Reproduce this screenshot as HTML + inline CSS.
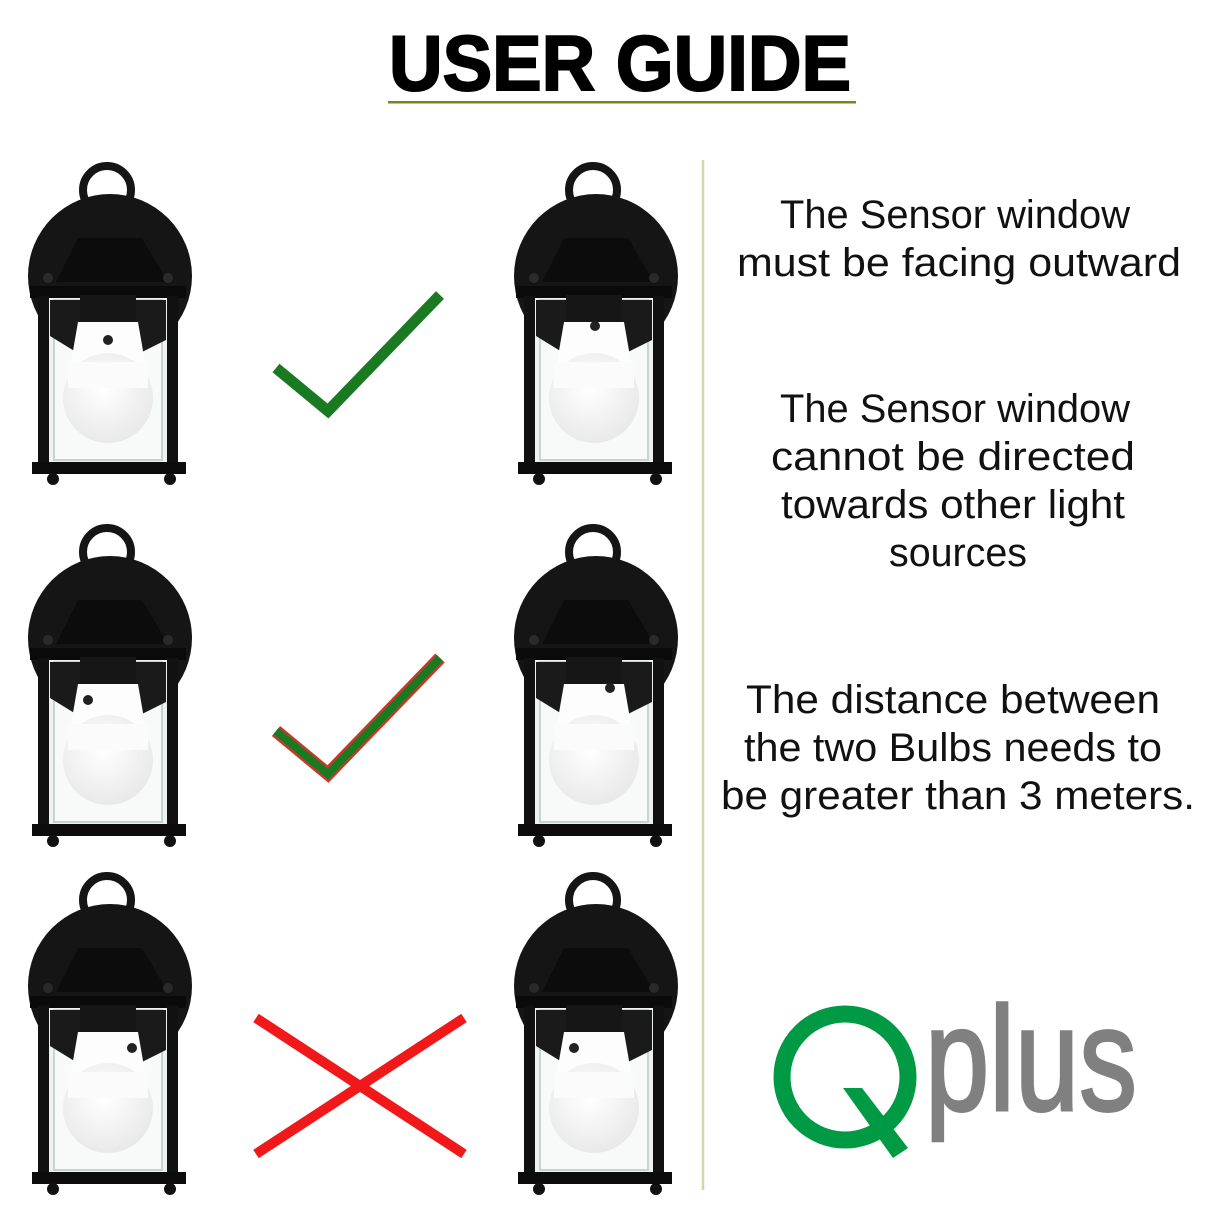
<!DOCTYPE html>
<html><head><style>
html,body{margin:0;padding:0;background:#fff;}
svg{display:block;}
</style></head><body>
<svg width="1214" height="1214" viewBox="0 0 1214 1214" xmlns="http://www.w3.org/2000/svg">
<defs>
<radialGradient id="bg" cx="0.45" cy="0.4" r="0.6">
<stop offset="0" stop-color="#ffffff"/><stop offset="1" stop-color="#e9e9e9"/>
</radialGradient>
<g id="lamp">
  <circle cx="90" cy="126" r="82" fill="#151515"/>
  <circle cx="87" cy="40" r="24" fill="none" stroke="#151515" stroke-width="8"/>
  <rect x="80" y="55" width="16" height="30" fill="#151515"/>
  <polygon points="58,88 122,88 148,132 36,132" fill="#0c0c0c"/>
  <rect x="10" y="136" width="156" height="12" fill="#0a0a0a"/>
  <rect x="28" y="148" width="120" height="166" fill="#eef3f2"/>
  <rect x="34" y="150" width="108" height="160" fill="#f7faf9" stroke="#c9d4d2" stroke-width="2"/>
  <path d="M30,150 L146,150 L146,190 L122,202 L56,202 L30,186 Z" fill="#1a1a1a"/>
  <rect x="18" y="146" width="11" height="170" fill="#111"/>
  <rect x="147" y="146" width="11" height="170" fill="#111"/>
  <rect x="12" y="312" width="154" height="12" fill="#0c0c0c"/>
  <circle cx="33" cy="329" r="6" fill="#111"/>
  <circle cx="150" cy="329" r="6" fill="#111"/>
  <circle cx="28" cy="128" r="5" fill="#2a2a2a"/>
  <circle cx="148" cy="128" r="5" fill="#2a2a2a"/>
  <rect x="60" y="145" width="56" height="28" fill="#161616"/>
  <path d="M58,172 L118,172 L126,218 L50,218 Z" fill="#fdfdfd"/>
  <circle cx="88" cy="248" r="45" fill="url(#bg)"/>
  <rect x="48" y="212" width="80" height="26" fill="#fbfbfb"/>
</g>
</defs>

<text x="620" y="90" text-anchor="middle" font-family="Liberation Sans, sans-serif" font-weight="bold" font-size="78" textLength="462" lengthAdjust="spacingAndGlyphs" fill="#000" stroke="#000" stroke-width="2">USER GUIDE</text>
<rect x="388" y="101" width="468" height="2.5" fill="#6b8c1f"/>

<line x1="703" y1="160" x2="703" y2="1190" stroke="#cddba8" stroke-width="2.5"/>

<g transform="translate(20,150)"><use href="#lamp"/><circle cx="88" cy="190" r="5" fill="#222"/></g>
<g transform="translate(506,150)"><use href="#lamp"/><circle cx="89" cy="176" r="5" fill="#222"/></g>
<g transform="translate(20,512)"><use href="#lamp"/><circle cx="68" cy="188" r="5" fill="#222"/></g>
<g transform="translate(506,512)"><use href="#lamp"/><circle cx="104" cy="176" r="5" fill="#222"/></g>
<g transform="translate(20,860)"><use href="#lamp"/><circle cx="112" cy="188" r="5" fill="#222"/></g>
<g transform="translate(506,860)"><use href="#lamp"/><circle cx="68" cy="188" r="5" fill="#222"/></g>

<polyline points="276,368 328,411 440,295" fill="none" stroke="#1a7a22" stroke-width="11"/>
<polyline points="276,731 328,774 440,658" fill="none" stroke="#c43a2a" stroke-width="13"/>
<polyline points="276,731 328,774 440,658" fill="none" stroke="#1a7a22" stroke-width="8"/>
<line x1="256" y1="1018" x2="464" y2="1154" stroke="#f01818" stroke-width="10"/>
<line x1="256" y1="1154" x2="464" y2="1018" stroke="#f01818" stroke-width="10"/>

<g font-family="Liberation Sans, sans-serif" font-size="40" fill="#111" text-anchor="middle">
<text x="955" y="228" textLength="350" lengthAdjust="spacingAndGlyphs">The Sensor window</text>
<text x="959" y="276" textLength="444" lengthAdjust="spacingAndGlyphs">must be facing outward</text>
<text x="955" y="422" textLength="350" lengthAdjust="spacingAndGlyphs">The Sensor window</text>
<text x="953" y="470" textLength="364" lengthAdjust="spacingAndGlyphs">cannot be directed</text>
<text x="953" y="518" textLength="344" lengthAdjust="spacingAndGlyphs">towards other light</text>
<text x="958" y="566" textLength="138" lengthAdjust="spacingAndGlyphs">sources</text>
<text x="953" y="713" textLength="414" lengthAdjust="spacingAndGlyphs">The distance between</text>
<text x="953" y="761" textLength="418" lengthAdjust="spacingAndGlyphs">the two Bulbs needs to</text>
<text x="958" y="809" textLength="474" lengthAdjust="spacingAndGlyphs">be greater than 3 meters.</text>
</g>

<circle cx="845" cy="1077" r="63" fill="none" stroke="#009a44" stroke-width="17"/>
<polygon points="843,1088 862,1088 908,1148 893,1158" fill="#009a44"/>
<text x="925" y="1110" font-family="Liberation Sans, sans-serif" font-size="148" fill="#808080" stroke="#808080" stroke-width="3" textLength="212" lengthAdjust="spacingAndGlyphs">plus</text>
</svg>
</body></html>
